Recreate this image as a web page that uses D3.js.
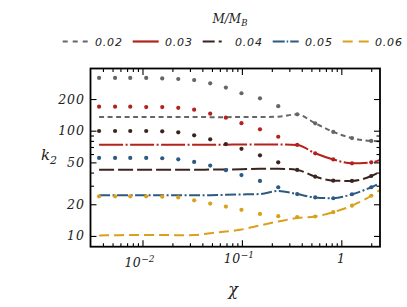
<!DOCTYPE html>
<html>
<head>
<meta charset="utf-8">
<script src="https://cdn.jsdelivr.net/npm/d3@7"></script>
<style>
  body { margin: 0; background: #fff; }
  svg { display: block; }
</style>
</head>
<body>
<div id="wrap"></div>
<script>
// chi values where the dots sit (lines run one step further, to the right edge)
var chi = [0.00366, 0.0053, 0.00753, 0.0109, 0.0158, 0.0229, 0.0331, 0.048, 0.069,
           0.099, 0.152, 0.232, 0.36, 0.546, 0.83, 1.28, 2.0];
var chiLine = chi.concat([2.45]);

var massRatio = ['0.02', '0.03', '0.04', '0.05', '0.06'];
var colors = ['#666666', '#b3221c', '#3b2420', '#2c5a80', '#d9a11b'];

// k2, dots and lines for each M/M_B
var dots002 = [317, 317, 317, 317, 314, 310, 303, 282, 257, 227, 203, 171, 143, 117.6, 97.4, 85, 80];
var line002 = [135, 135, 135, 135, 135, 135, 135, 134.5, 134.5, 135, 135, 136, 143, 117.6, 97.4, 85, 80, 79.5];
var dots003 = [169, 169, 169, 167.5, 167.5, 165, 158.5, 145, 133, 118, 103, 87.6, 73.2, 61, 53.3, 49, 50];
var line003 = [73.5, 73.5, 73.5, 73.5, 73.5, 73.5, 73.5, 73.5, 73.6, 74, 74, 74, 73.2, 61, 53.3, 49, 50, 52.8];
var dots004 = [99.3, 99.3, 99.3, 99.3, 98.6, 96.5, 90.4, 82.8, 74.7, 67.3, 58.4, 50.1, 42.4, 36.6, 33.5, 33.3, 37.1];
var line004 = [42.6, 42.6, 42.6, 42.6, 42.6, 42.6, 42.6, 42.7, 42.8, 43, 43.5, 43.5, 42.4, 36.6, 33.5, 33.3, 37.1, 40.8];
var dots005 = [55.1, 55.1, 55.1, 55.1, 54.7, 53.4, 50.5, 46.6, 42.2, 37.9, 33.3, 29.0, 25.0, 23.2, 22.8, 24.9, 29.0];
var line005 = [24.4, 24.4, 24.4, 24.4, 24.4, 24.4, 24.4, 24.4, 24.6, 24.8, 25, 26.8, 25.0, 23.2, 22.8, 24.9, 29.0, 31.7];
var dots006 = [23.8, 23.8, 23.8, 23.8, 23.6, 23.2, 21.8, 20.3, 19.0, 17.7, 16.2, 15.4, 15.1, 15.3, 16.8, 19.4, 24.1];
var line006 = [10.1, 10.15, 10.2, 10.2, 10.2, 10.15, 10.2, 10.6, 11.0, 11.5, 12.6, 13.7, 14.8, 15.3, 16.8, 19.4, 24.1, 27.4];

var yTickLabels = [10, 20, 50, 100, 200];
var yMinorTicks = [30, 40, 60, 70, 80, 90];
var xTickLabels = [0.01, 0.1, 1];
var xLabelText = [['10', '\u22122'], ['10', '\u22121'], ['1', '']];

var allDots = [dots002, dots003, dots004, dots005, dots006];
var allLines = [line002, line003, line004, line005, line006];
var dashes = ['5,3.5', '24,2.5,2,2.5', '15,4', '11,2.5,2,2.5', '10,5'];
var legendDashes = ['5,5', 'none', '12,4,3,7', '12,2,1.5,2,9', '10,6'];

var width = 407, height = 307;
var plot = { left: 90.5, right: 380, top: 68.5, bottom: 246.7 };

var svg = d3.select('#wrap').append('svg')
  .attr('width', width)
  .attr('height', height);

var x = d3.scaleLog().domain([0.003, 2.45]).range([plot.left, plot.right]);
var y = d3.scaleLog().domain([7.9, 390]).range([plot.bottom, plot.top]);

var serif = '"DejaVu Serif", serif';

// lines
var line = d3.line()
  .x(function(d) { return x(d[0]); })
  .y(function(d) { return y(d[1]); })
  .curve(d3.curveMonotoneX);

var series = svg.append('g');
for (var s = 0; s < allLines.length; s++) {
  var pts = chiLine.map(function(c, i) { return [c, allLines[s][i]]; });
  series.append('path')
    .attr('d', line(pts))
    .attr('fill', 'none')
    .attr('stroke', colors[s])
    .attr('stroke-width', 2)
    .attr('stroke-dasharray', dashes[s]);
}
for (var s = 0; s < allDots.length; s++) {
  var pts = chi.map(function(c, i) { return [c, allDots[s][i]]; });
  series.selectAll('.d' + s)
    .data(pts)
    .enter().append('circle')
      .attr('class', 'd' + s)
      .attr('r', 2.1)
      .attr('fill', colors[s])
      .attr('cx', function(d) { return x(d[0]); })
      .attr('cy', function(d) { return y(d[1]); });
}

// ticks, inside on all four sides
var xMinor = x.ticks().filter(function(t) { return xTickLabels.indexOf(t) < 0 && t > 0.003; });

function tickAxis(axisFn, scale, values, size, tx, ty) {
  var g = svg.append('g')
    .attr('transform', 'translate(' + tx + ',' + ty + ')')
    .call(axisFn(scale).tickValues(values).tickSize(size).tickFormat(''));
  g.select('.domain').remove();
  g.selectAll('line').attr('stroke', '#000').attr('stroke-width', 1.1);
}
tickAxis(d3.axisBottom, x, xMinor, -3.5, 0, plot.bottom);
tickAxis(d3.axisBottom, x, xTickLabels, -6.5, 0, plot.bottom);
tickAxis(d3.axisTop, x, xMinor, -3.5, 0, plot.top);
tickAxis(d3.axisTop, x, xTickLabels, -6.5, 0, plot.top);
tickAxis(d3.axisLeft, y, yMinorTicks, -3.5, plot.left, 0);
tickAxis(d3.axisLeft, y, yTickLabels, -6, plot.left, 0);
tickAxis(d3.axisRight, y, yMinorTicks, -3.5, plot.right, 0);
tickAxis(d3.axisRight, y, yTickLabels, -6, plot.right, 0);

// frame
svg.append('rect')
  .attr('x', plot.left)
  .attr('y', plot.top)
  .attr('width', plot.right - plot.left)
  .attr('height', plot.bottom - plot.top)
  .attr('fill', 'none')
  .attr('stroke', '#000')
  .attr('stroke-width', 1.8);

// tick labels
svg.selectAll('.ylab')
  .data(yTickLabels)
  .enter().append('text')
    .attr('class', 'ylab')
    .attr('x', 85)
    .attr('y', function(d) { return y(d) + 4.5; })
    .attr('text-anchor', 'end')
    .attr('font-family', serif)
    .attr('font-style', 'italic')
    .attr('font-size', 12.5)
    .attr('letter-spacing', 1)
    .attr('fill', '#222')
    .text(function(d) { return d; });

var xBase = [266.7, 262.7, 262.7];
xTickLabels.forEach(function(v, i) {
  var t = svg.append('text')
    .attr('x', x(v) - (xLabelText[i][1] ? 3 : 0))
    .attr('y', xBase[i])
    .attr('text-anchor', 'middle')
    .attr('font-family', serif)
    .attr('font-style', 'italic')
    .attr('font-size', 12.5)
    .attr('fill', '#222');
  t.append('tspan').attr('letter-spacing', 0.5).text(xLabelText[i][0]);
  if (xLabelText[i][1]) {
    t.append('tspan').attr('dy', -5).attr('font-size', 9).text(xLabelText[i][1]);
  }
});

// axis titles
svg.append('text')
  .attr('x', 233)
  .attr('y', 295)
  .attr('text-anchor', 'middle')
  .attr('font-family', serif)
  .attr('font-style', 'italic')
  .attr('font-size', 16)
  .attr('fill', '#222')
  .text('\u03c7');

var ky = svg.append('text')
  .attr('x', 41)
  .attr('y', 160)
  .attr('font-family', serif)
  .attr('font-style', 'italic')
  .attr('font-size', 15)
  .attr('fill', '#222');
ky.append('tspan').text('k');
ky.append('tspan').attr('dy', 4).attr('font-size', 11).text('2');

// legend
var lt = svg.append('text')
  .attr('x', 212.5)
  .attr('y', 23)
  .attr('font-family', serif)
  .attr('font-style', 'italic')
  .attr('font-size', 12)
  .attr('fill', '#222');
lt.append('tspan').text('M/M');
lt.append('tspan').attr('dy', 3).attr('font-size', 8.5).text('B');

var legend = svg.append('g')
  .selectAll('g')
  .data(massRatio)
  .enter().append('g')
    .attr('transform', function(d, i) { return 'translate(' + (62.7 + 70 * i) + ',41.5)'; });

legend.append('line')
  .attr('x1', 0).attr('x2', 26)
  .attr('stroke', function(d, i) { return colors[i]; })
  .attr('stroke-width', 2.2)
  .attr('stroke-dasharray', function(d, i) { return legendDashes[i]; });

legend.append('text')
  .attr('x', 32.3)
  .attr('y', 4)
  .attr('font-family', '"DejaVu Sans", sans-serif')
  .attr('font-style', 'italic')
  .attr('font-size', 11)
  .attr('letter-spacing', 0.8)
  .attr('fill', '#222')
  .text(function(d) { return d; });
</script>
</body>
</html>
